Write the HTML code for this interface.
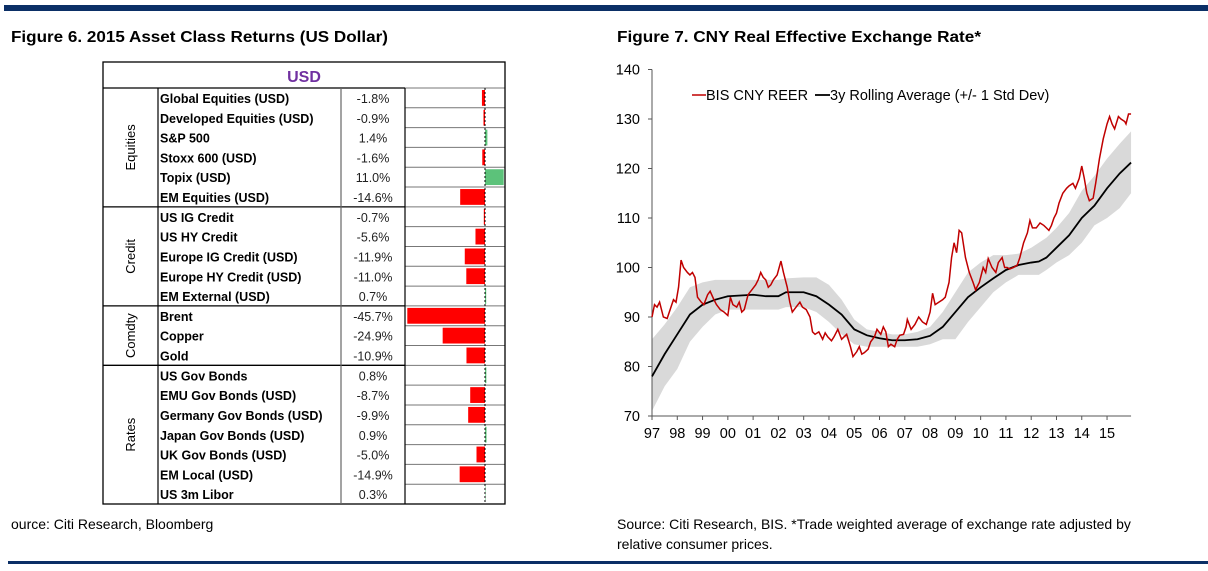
<!DOCTYPE html>
<html><head><meta charset="utf-8"><style>
html,body{margin:0;padding:0;background:#fff;width:1208px;height:571px;overflow:hidden}
svg{display:block;font-family:"Liberation Sans",Arial,sans-serif}
</style></head><body>
<svg id="s" width="1208" height="571" viewBox="0 0 1208 571">
<rect x="4" y="5" width="1204" height="6" fill="#0b2f66"/>
<rect x="8" y="561" width="1200" height="3" fill="#0b2f66"/>
<text x="11" y="42" font-size="16" font-weight="bold" textLength="377" lengthAdjust="spacingAndGlyphs">Figure 6. 2015 Asset Class Returns (US Dollar)</text>
<text x="617" y="42" font-size="16" font-weight="bold" textLength="364" lengthAdjust="spacingAndGlyphs">Figure 7. CNY Real Effective Exchange Rate*</text>
<text x="11" y="529" font-size="14">ource: Citi Research, Bloomberg</text>
<text x="617" y="529" font-size="14">Source: Citi Research, BIS. *Trade weighted average of exchange rate adjusted by</text>
<text x="617" y="549" font-size="14">relative consumer prices.</text>
<g id="table"></g>
<g id="chart"></g>
</svg>
<script>
const NS="http://www.w3.org/2000/svg";
function mk(p,t,a){const e=document.createElementNS(NS,t);for(const k in a)e.setAttribute(k,a[k]);p.appendChild(e);return e;}

// ---- Table data ----
const assetNames=["Global Equities (USD)","Developed Equities (USD)","S&P 500","Stoxx 600 (USD)","Topix (USD)","EM Equities (USD)","US IG Credit","US HY Credit","Europe IG Credit (USD)","Europe HY Credit (USD)","EM External (USD)","Brent","Copper","Gold","US Gov Bonds","EMU Gov Bonds (USD)","Germany Gov Bonds (USD)","Japan Gov Bonds (USD)","UK Gov Bonds (USD)","EM Local (USD)","US 3m Libor"];
const assetReturns=[-1.8,-0.9,1.4,-1.6,11.0,-14.6,-0.7,-5.6,-11.9,-11.0,0.7,-45.7,-24.9,-10.9,0.8,-8.7,-9.9,0.9,-5.0,-14.9,0.3];
const groupNames=["Equities","Credit","Comdty","Rates"];
const groupSizes=[6,5,3,7];

const T=document.getElementById('table');
const L=103,R=505,TOP=62,HB=88,RH=(504-88)/21,C1=158,C2=341,C3=405,ZERO=485,PX=1.7;
const rowY=i=>HB+i*RH;
const xr=v=>ZERO+v*PX;
for(let i=0;i<assetNames.length;i++){
  const y=rowY(i);
  const ln=mk(T,'line',{x1:C3,x2:R,y1:y,y2:y,stroke:'#777','stroke-width':1});
  
  
  const v=assetReturns[i];
  const b=mk(T,'rect',{x:Math.min(xr(0),xr(v)),y:y+2,width:Math.abs(xr(v)-xr(0)),height:RH-4,fill:v<0?'#ff0000':'#5cc27a'});
  
  
  const n=mk(T,'text',{x:C1+2,y:y+15,'font-size':12.5,'font-weight':'bold'});n.textContent=assetNames[i];
  
  
  const t=mk(T,'text',{x:373,y:y+15,'font-size':12.5,'text-anchor':'middle',fill:'#222'});t.textContent=v.toFixed(1)+'%';
  
  
}
let gi=0;
groupNames.forEach((g,k)=>{
  const y0=rowY(gi),y1=rowY(gi+groupSizes[k]);
  const ln=mk(T,'line',{x1:L,x2:C3,y1:y0,y2:y0,stroke:'#000','stroke-width':1.3});
  
  
  const cy=(y0+y1)/2;
  const t=mk(T,'text',{x:130,y:cy,'font-size':13,'text-anchor':'middle',transform:`rotate(-90 130 ${cy}) translate(0 5)`});t.textContent=g;
  
  
  gi+=groupSizes[k];
});
const frame=mk(T,'rect',{x:L,y:TOP,width:R-L,height:504-TOP,fill:'none',stroke:'#000','stroke-width':1.3});


[C1,C2,C3].forEach(x=>{const l=mk(T,'line',{x1:x,x2:x,y1:HB,y2:504,stroke:x==C2?'#666':'#000','stroke-width':1.2});
  
  });
const zl=mk(T,'line',{x1:ZERO,x2:ZERO,y1:HB,y2:504,stroke:'#000','stroke-width':1,'stroke-dasharray':'2,2'});


const hd=mk(T,'text',{x:304,y:82,'font-size':16,'font-weight':'bold','text-anchor':'middle',fill:'#7030a0'});hd.textContent='USD';



// ---- Chart data ----
const reerT=[1997.0,1997.1,1997.2,1997.3,1997.45,1997.6,1997.75,1997.85,1997.95,1998.05,1998.15,1998.25,1998.4,1998.5,1998.6,1998.7,1998.8,1998.95,1999.05,1999.2,1999.3,1999.45,1999.55,1999.7,1999.85,2000.0,2000.1,2000.2,2000.35,2000.45,2000.55,2000.65,2000.8,2000.95,2001.1,2001.2,2001.3,2001.4,2001.5,2001.6,2001.7,2001.8,2001.95,2002.1,2002.2,2002.35,2002.45,2002.55,2002.7,2002.85,2002.95,2003.1,2003.25,2003.35,2003.45,2003.6,2003.75,2003.85,2003.95,2004.1,2004.2,2004.35,2004.5,2004.6,2004.7,2004.85,2004.95,2005.1,2005.2,2005.3,2005.4,2005.55,2005.65,2005.8,2005.9,2006.05,2006.15,2006.25,2006.35,2006.45,2006.6,2006.7,2006.8,2006.95,2007.05,2007.1,2007.25,2007.4,2007.55,2007.7,2007.85,2008.0,2008.1,2008.2,2008.35,2008.5,2008.6,2008.75,2008.85,2008.95,2009.05,2009.15,2009.25,2009.4,2009.55,2009.7,2009.8,2009.95,2010.1,2010.2,2010.3,2010.45,2010.6,2010.7,2010.85,2010.95,2011.05,2011.15,2011.3,2011.45,2011.55,2011.7,2011.85,2011.95,2012.05,2012.2,2012.35,2012.5,2012.6,2012.7,2012.8,2012.9,2013.0,2013.1,2013.25,2013.4,2013.5,2013.65,2013.75,2013.9,2014.0,2014.1,2014.2,2014.3,2014.45,2014.55,2014.7,2014.85,2015.0,2015.1,2015.2,2015.3,2015.45,2015.55,2015.7,2015.75,2015.85,2015.95];
const reerV=[90,92.5,92,93,90,89.7,92,93.5,93,96,101.5,100,99,98.5,99,98,94,93,92.5,94.5,95.2,93.5,92.5,91.5,91,90.3,94,92.5,92,93,91,91.5,94.5,95.5,96.5,97.5,99,98,97.5,96,96.5,97.5,98.5,101.3,99,96,93,91,92,93,92,91.5,90,87,86.5,87,85.5,86.8,86,85.2,86,87.5,85.5,86,86.5,84,82,83,84,82.5,82.8,83.5,85,86,87.5,86.5,88,87,84,84.5,84,85.5,86.3,86.5,88,89.5,87.5,88.5,90,89,88.5,91,94.8,92.5,93,93.5,94,97,102,105,103,107.5,107,102,99,97,95.5,97,100,99,101.8,100,99,101,102,100,100,99.7,100,100.5,102,105,107,109.5,108,108,109,108.5,108,107.5,108.5,110,111,113,115,116,116.5,117,116,118,120.5,118,115,113.5,114,117,122,126,129,130.5,129,128,130.5,130,129.5,129,131,131];
const avgT=[1997.0,1997.5,1998.0,1998.5,1999.0,1999.5,2000.0,2001.0,2001.5,2002.0,2002.3,2003.0,2003.5,2004.0,2004.5,2005.0,2005.5,2006.0,2006.5,2007.0,2007.5,2008.0,2008.5,2009.0,2009.5,2010.0,2010.5,2011.0,2011.5,2012.0,2012.3,2012.6,2013.0,2013.5,2014.0,2014.5,2015.0,2015.5,2015.95];
const avgV=[78,82.5,86.5,90.5,92.5,93.5,94.2,94.5,94.2,94.2,95,95,94.2,92.5,90.5,87.5,86.3,85.7,85.3,85.3,85.5,86.2,88,91,94,96,97.8,99.5,100.5,101,101.2,102,104,106.5,110,112.5,116,119,121.2];
const bandUpper=[85.5,88.5,92,96,97,97.5,97.5,97.5,97.5,97.5,97.8,98,98,96.5,93.5,89.5,87.5,87,86.5,86.5,87,88,91,95,99,101,102.5,102.5,102.8,104,105,106,108,111,115.5,118.5,122,125,127.5];
const bandLower=[71,76,79.5,85,88,90.5,91.5,91.5,91.5,91.5,92,92,91,89,86.5,84.5,84,84,84,84,84,84.5,85.5,85.5,89,92,95,97,98.5,98.5,98.5,99.5,101,102.5,105,108.5,110,112,115];
const yTicks=[70,80,90,100,110,120,130,140];
const xTickYears=[1997,1998,1999,2000,2001,2002,2003,2004,2005,2006,2007,2008,2009,2010,2011,2012,2013,2014,2015];

const C=document.getElementById('chart');
const X0=652,XPY=25.28,Y70=416,YPU=4.95;
const sx=t=>X0+(t-1997)*XPY;
const sy=v=>Y70-(v-70)*YPU;
let bp='M'+avgT.map((t,i)=>sx(t)+','+sy(bandUpper[i])).join('L');
for(let i=avgT.length-1;i>=0;i--)bp+='L'+sx(avgT[i])+','+sy(bandLower[i]);
const band=mk(C,'path',{d:bp+'Z',fill:'#d9d9d9'});


const ax=mk(C,'path',{d:`M${X0},${sy(140)}V${Y70}H${sx(2015.95)}`,fill:'none',stroke:'#555','stroke-width':1});


yTicks.forEach(v=>{
  const t=mk(C,'line',{x1:X0-4,x2:X0,y1:sy(v),y2:sy(v),stroke:'#555'});
  
  
  const l=mk(C,'text',{x:X0-12,y:sy(v)+5,'font-size':14.5,'text-anchor':'end'});l.textContent=v;
  
  
});
xTickYears.forEach(y=>{
  const t=mk(C,'line',{x1:sx(y),x2:sx(y),y1:Y70,y2:Y70+4,stroke:'#555'});
  
  
  const l=mk(C,'text',{x:sx(y),y:Y70+22,'font-size':14.5,'text-anchor':'middle'});l.textContent=String(y%100).padStart(2,'0');
  
  
});
const avg=mk(C,'polyline',{points:avgT.map((t,i)=>sx(t)+','+sy(avgV[i])).join(' '),fill:'none',stroke:'#000','stroke-width':1.8});


const reer=mk(C,'polyline',{points:reerT.map((t,i)=>sx(t)+','+sy(reerV[i])).join(' '),fill:'none',stroke:'#c00000','stroke-width':1.5});


const lg1=mk(C,'line',{x1:692,x2:706,y1:95,y2:95,stroke:'#c00000','stroke-width':1.5});


const lt1=mk(C,'text',{x:706,y:100,'font-size':14.5});lt1.textContent='BIS CNY REER';


const lg2=mk(C,'line',{x1:815,x2:830,y1:95,y2:95,stroke:'#000','stroke-width':1.8});


const lt2=mk(C,'text',{x:830,y:100,'font-size':14.5});lt2.textContent='3y Rolling Average (+/- 1 Std Dev)';


</script>
</body></html>
